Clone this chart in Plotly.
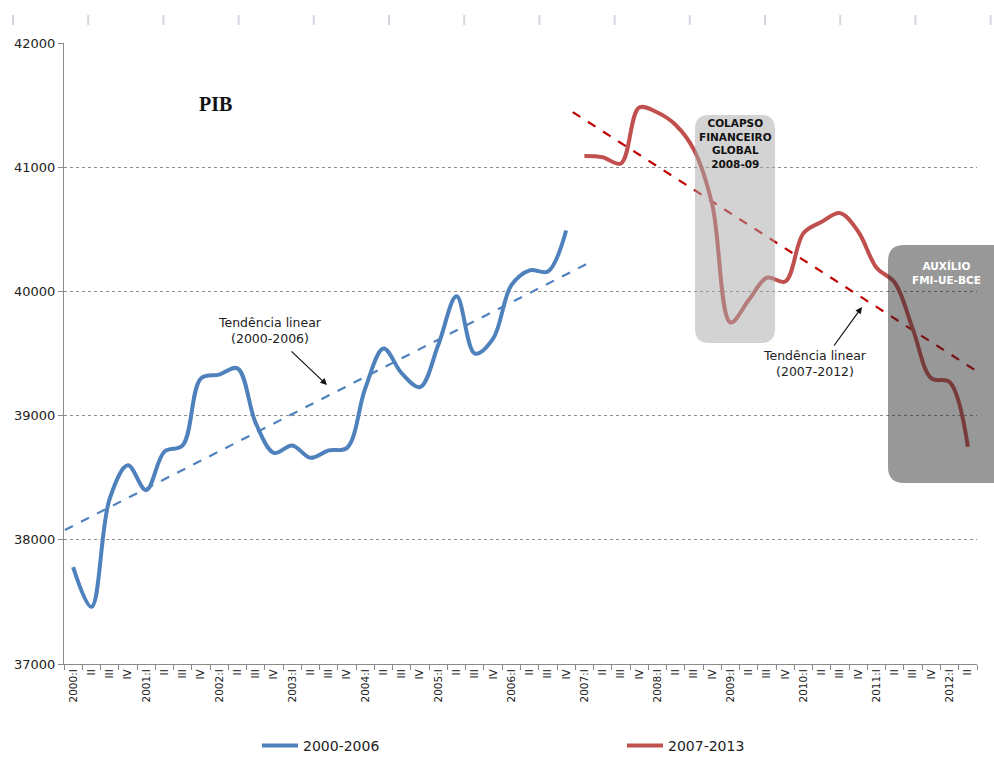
import plotly.graph_objects as go

# ---------------- data ----------------
years = list(range(2000, 2013))
roman = ["I", "II", "III", "IV"]
quarter_labels = []
for yr in years:
    for qi, q in enumerate(roman):
        if yr == 2012 and qi > 1:
            break
        quarter_labels.append(f"{yr}:{q}" if qi == 0 else q)

pib_2000_2006 = [37780, 37460, 38330, 38600, 38400, 38710, 38760, 39300,
                 39330, 39380, 38940, 38700, 38760, 38660, 38720, 38740,
                 39220, 39540, 39340, 39230, 39570, 39960, 39500, 39620,
                 40050, 40170, 40160, 40490]
pib_2007_2013 = [41090, 41080, 41030, 41480, 41440, 41340, 41140, 40700,
                 39750, 39930, 40110, 40080, 40470, 40560, 40630, 40480,
                 40190, 40070, 39690, 39300, 39270, 38750]

trend1_x = [-0.45, 28.34]
trend1_y = [38079, 40237]
trend2_x = [27.36, 50.5]
trend2_y = [41444, 39262]

x_blue = list(range(len(pib_2000_2006)))
x_red = list(range(len(pib_2000_2006), len(pib_2000_2006) + len(pib_2007_2013)))

# ---------------- figure ----------------
FW, FH = 994, 772
L, R, T, B = 64, 977, 43, 664
W, H = R - L, B - T

fig = go.Figure()
fig.add_trace(go.Scatter(x=trend1_x, y=trend1_y, mode="lines", showlegend=False,
                         line=dict(color="#4F81BD", width=2.2, dash="dash"), hoverinfo="skip"))
fig.add_trace(go.Scatter(x=trend2_x, y=trend2_y, mode="lines", showlegend=False,
                         line=dict(color="#C00000", width=2.2, dash="dash"), hoverinfo="skip"))
fig.add_trace(go.Scatter(x=x_blue, y=pib_2000_2006, mode="lines", name="2000-2006",
                         legend="legend",
                         line=dict(color="#4F81BD", width=4, shape="spline", smoothing=1)))
fig.add_trace(go.Scatter(x=x_red, y=pib_2007_2013, mode="lines", name="2007-2013",
                         legend="legend2",
                         line=dict(color="#C0504D", width=4, shape="spline", smoothing=1)))


def P(px, py):
    return f"{(px - L) / W:.5f},{(B - py) / H:.5f}"


def rounded(x0, y0, x1, y1, r):
    return (f"M {P(x0 + r, y0)} L {P(x1 - r, y0)} Q {P(x1, y0)} {P(x1, y0 + r)} "
            f"L {P(x1, y1 - r)} Q {P(x1, y1)} {P(x1 - r, y1)} L {P(x0 + r, y1)} "
            f"Q {P(x0, y1)} {P(x0, y1 - r)} L {P(x0, y0 + r)} Q {P(x0, y0)} {P(x0 + r, y0)} Z")


shapes = [
    dict(type="path", xref="paper", yref="paper", path=rounded(695, 115, 775, 343, 14),
         fillcolor="rgba(168,168,168,0.5)", line=dict(width=0), layer="above"),
    dict(type="path", xref="paper", yref="paper", path=rounded(888, 245, 1015, 483, 16),
         fillcolor="rgba(40,40,40,0.48)", line=dict(width=0), layer="above"),
]
for k in range(14):
    px = 13 + 75.2 * k
    shapes.append(dict(type="line", xref="paper", yref="paper",
                       x0=(px - L) / W, x1=(px - L) / W,
                       y0=(B - 15) / H, y1=(B - 25) / H,
                       line=dict(color="#d3d7de", width=2)))

font_txt = "DejaVu Sans"


def txt(px, py, text, size, color="#222", family=font_txt):
    return dict(xref="paper", yref="paper", x=(px - L) / W, y=(B - py) / H,
                xanchor="center", yanchor="middle", text=text, showarrow=False,
                align="center", font=dict(family=family, size=size, color=color))


def arrow(hx, hy, tx, ty):
    return dict(xref="paper", yref="paper", x=(hx - L) / W, y=(B - hy) / H, text="",
                showarrow=True, axref="pixel", ayref="pixel", ax=tx - hx, ay=ty - hy,
                arrowhead=2, arrowsize=1.1, arrowwidth=1.2, arrowcolor="#111")


annotations = [
    txt(215, 104, "<b>PIB</b>", 20, "#111", "Liberation Serif"),
    txt(735, 144, "<b>COLAPSO<br>FINANCEIRO<br>GLOBAL<br>2008-09</b>", 10.5, "#111"),
    txt(946, 273, "<b>AUXÍLIO<br>FMI-UE-BCE</b>", 10.5, "white"),
    txt(270, 330, "Tendência linear<br>(2000-2006)", 12.5),
    txt(815, 363, "Tendência linear<br>(2007-2012)", 12.5),
    arrow(327, 385, 290, 350),
    arrow(862, 307, 833, 347),
]

leg_common = dict(orientation="h", xanchor="left", yanchor="top", yref="container",
                  y=1 - 730 / FH, itemwidth=36,
                  font=dict(family=font_txt, size=14, color="#222"),
                  bgcolor="rgba(0,0,0,0)")

fig.update_layout(
    width=FW, height=FH,
    margin=dict(l=L, r=FW - R, t=T, b=FH - B, pad=0),
    paper_bgcolor="white", plot_bgcolor="white",
    shapes=shapes, annotations=annotations,
    font=dict(family=font_txt, color="#222"),
    showlegend=True,
    legend=dict(x=(257 - L) / W, **leg_common),
    legend2=dict(x=(622 - L) / W, **leg_common),
    xaxis=dict(range=[-0.5, len(quarter_labels) - 0.5], tickmode="array",
               tickvals=list(range(len(quarter_labels))), ticktext=quarter_labels,
               tickangle=-90, ticks="", showgrid=False, zeroline=False, automargin=False,
               showline=True, linecolor="#8a8a8a", linewidth=1,
               tickfont=dict(family=font_txt, size=10.5, color="#222"),
               minor=dict(tickmode="array",
                          tickvals=[i - 0.5 for i in range(len(quarter_labels) + 1)],
                          ticks="outside", ticklen=5, tickcolor="#8a8a8a", showgrid=False)),
    yaxis=dict(range=[37000, 42000], dtick=1000, tick0=37000, automargin=False,
               showgrid=True, gridcolor="#8c8c8c", griddash="dot", gridwidth=1,
               zeroline=False, showline=True, linecolor="#8a8a8a", linewidth=1,
               ticks="outside", ticklen=5, tickcolor="#8a8a8a",
               tickformat="d", tickfont=dict(family=font_txt, size=13, color="#222")),
)

fig.write_html("out.html")
